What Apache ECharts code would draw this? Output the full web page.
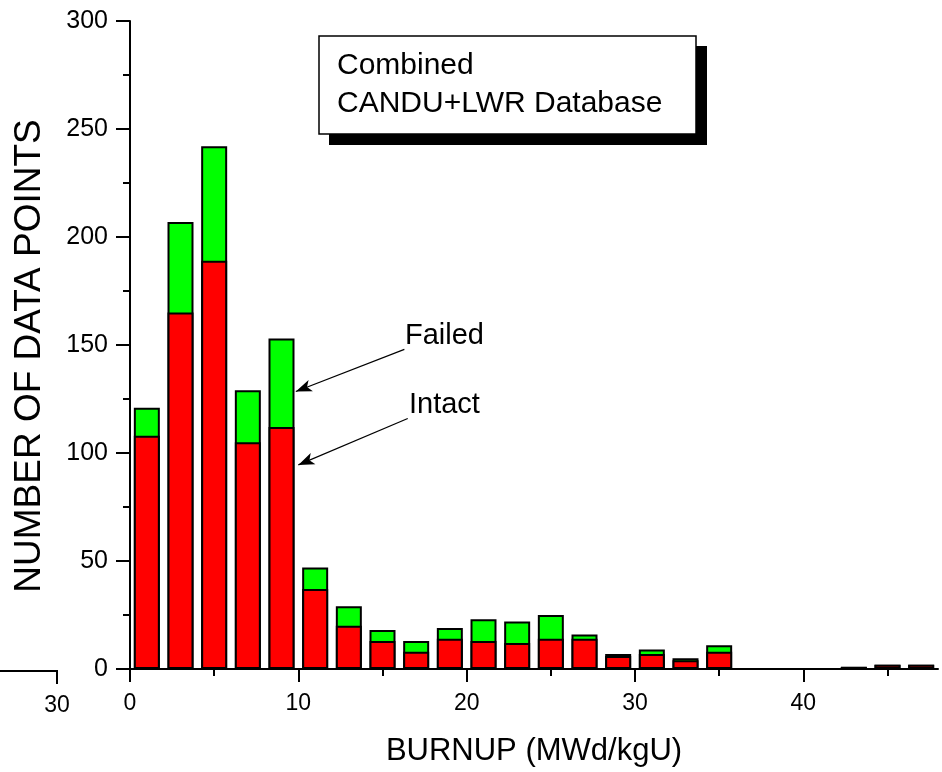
<!DOCTYPE html>
<html>
<head>
<meta charset="utf-8">
<script src="https://cdn.jsdelivr.net/npm/echarts@6/dist/echarts.min.js"></script>
<style>
html,body{margin:0;padding:0;background:#fff;}
#chart{width:942px;height:772px;}
</style>
</head>
<body>
<div id="chart"></div>
<script>
// Bin centres (burnup, MWd/kgU)
var burnupBins = [1,3,5,7,9,11,13,15,17,19,21,23,25,27,29,31,33,35,37,39,41,43,45,47];
// Total elements per bin (intact + failed; top of the green part)
var totalCounts = [121,207,242,129,153,47,29,18,13,19,23,22,25,16,7,9,5,11,0,0,0,1,2,2];
// Intact elements per bin (red part)
var intactCounts = [108,165,189,105,112,37,20,13,8,14,13,12,14,14,6,7,4,8,0,0,0,1,2,2];
// Axis tick labels
var xTickValues = [0,10,20,30,40];
var xMinorTickValues = [5,15,25,35,45];
var yTickLabels = [0,50,100,150,200,250,300];
// Annotation arrows: [from, to] in data coordinates
var failedArrow = [[16.3,148],[9.85,128.5]];
var intactArrow = [[16.5,116],[10.0,94.5]];

var FONT = '"Liberation Sans", Arial, sans-serif';

function pairs(xs, ys){ return xs.map(function(x,i){ return [x, ys[i]]; }); }

var chart = echarts.init(document.getElementById('chart'), null, {renderer:'canvas'});
var option = {
  animation: false,
  backgroundColor: '#ffffff',
  textStyle: {fontFamily: FONT, color: '#000'},
  grid: {left: 130, top: 21, right: 4, bottom: 101, containLabel: false},
  xAxis: [{
    type: 'value', min: 0, max: 48, interval: 10, position: 'bottom',
    name: 'BURNUP (MWd/kgU)', nameLocation: 'middle', nameGap: 67,
    nameTextStyle: {fontSize: 31, color: '#000', fontFamily: FONT},
    axisLine: {show: true, onZero: false, lineStyle: {color: '#000', width: 2}},
    axisTick: {show: true, inside: false, length: 13, lineStyle: {color: '#000', width: 2}, customValues: xTickValues},
    axisLabel: {fontSize: 23, color: '#000', margin: 23, fontFamily: FONT, customValues: xTickValues},
    splitLine: {show: false}
  },{
    type: 'value', min: 0, max: 48, position: 'bottom', gridIndex: 0,
    axisLine: {show: false},
    axisTick: {show: true, inside: false, length: 7, lineStyle: {color: '#000', width: 2}, customValues: xMinorTickValues},
    axisLabel: {show: false},
    splitLine: {show: false}
  }],
  yAxis: {
    type: 'value', min: 0, max: 300, interval: 50,
    name: 'NUMBER OF DATA POINTS', nameLocation: 'middle', nameGap: 82,
    nameTextStyle: {fontSize: 37, color: '#000', fontFamily: FONT, padding: [0, 22, 0, 0]},
    axisLine: {show: true, onZero: false, lineStyle: {color: '#000', width: 2}},
    axisTick: {show: true, inside: false, length: 14, lineStyle: {color: '#000', width: 2}},
    minorTick: {show: true, splitNumber: 2, length: 7, lineStyle: {color: '#000', width: 2}},
    axisLabel: {fontSize: 25, color: '#000', margin: 22, fontFamily: FONT,
      formatter: function(v){ return yTickLabels.indexOf(v) >= 0 ? String(v) : ''; }},
    splitLine: {show: false}
  },
  series: [{
    name: 'Failed', type: 'bar', xAxisIndex: 0,
    data: pairs(burnupBins, totalCounts),
    barWidth: 26, barGap: '-100%', z: 2,
    itemStyle: {color: '#00ff00', borderColor: '#000', borderWidth: 2}
  },{
    name: 'Intact', type: 'bar', xAxisIndex: 0,
    data: pairs(burnupBins, intactCounts),
    barWidth: 26, barGap: '-100%', z: 3,
    itemStyle: {color: '#ff0000', borderColor: '#000', borderWidth: 2},
    markLine: {
      silent: true, symbol: ['none','arrow'], symbolSize: [9, 16],
      lineStyle: {color: '#000', width: 1.2, type: 'solid'},
      label: {show: false},
      data: [
        [{coord: failedArrow[0]}, {coord: failedArrow[1]}],
        [{coord: intactArrow[0]}, {coord: intactArrow[1]}]
      ]
    }
  }],
  graphic: [
    // text box shadow and box
    {type: 'rect', shape: {x: 329, y: 46, width: 378, height: 99}, style: {fill: '#000'}, z: 100},
    {type: 'rect', shape: {x: 319, y: 36, width: 377, height: 98}, style: {fill: '#fff', stroke: '#000', lineWidth: 1.5}, z: 101},
    {type: 'text', x: 337, y: 85, z: 102,
      style: {text: 'Combined\nCANDU+LWR Database', font: '30px ' + FONT, fill: '#000', lineHeight: 38, verticalAlign: 'middle', align: 'left'}},
    // annotation labels
    {type: 'text', x: 405, y: 336, z: 102,
      style: {text: 'Failed', font: '29px ' + FONT, fill: '#000', verticalAlign: 'middle', align: 'left'}},
    {type: 'text', x: 409, y: 405, z: 102,
      style: {text: 'Intact', font: '29px ' + FONT, fill: '#000', verticalAlign: 'middle', align: 'left'}},
    // stray axis fragment at the left edge of the original figure
    {type: 'line', shape: {x1: 0, y1: 671, x2: 57, y2: 671}, style: {stroke: '#000', lineWidth: 2}, z: 102},
    {type: 'line', shape: {x1: 57, y1: 670, x2: 57, y2: 684}, style: {stroke: '#000', lineWidth: 2}, z: 102},
    {type: 'text', x: 57, y: 706, z: 102,
      style: {text: '30', font: '23px ' + FONT, fill: '#000', verticalAlign: 'middle', align: 'center'}}
  ]
};
chart.setOption(option);
</script>
</body>
</html>
